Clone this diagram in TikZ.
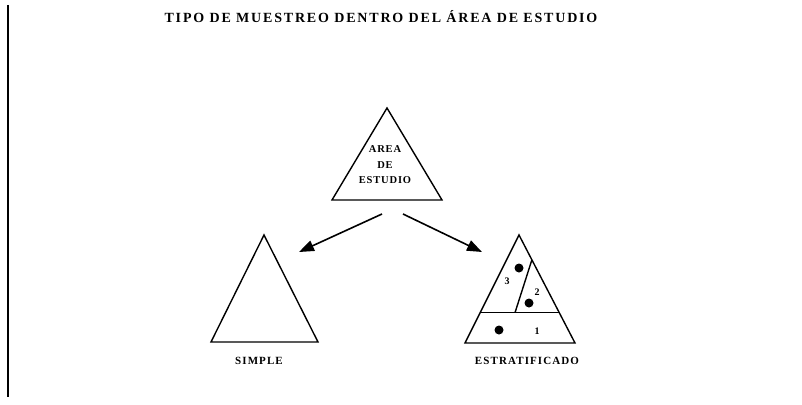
\documentclass[tikz,border=0pt]{standalone}
\usepackage{fontspec}
\setmainfont{Liberation Serif}
\usepackage{tikz}
\usetikzlibrary{arrows.meta,calc}
\tikzset{
Bord/.style={
 draw=black,
 line width=1.4pt
 },
Triangle/.style={
 draw=black,
 line width=1.4pt,
 line join=miter
 },
Fleche/.style={
 draw=black,
 line width=1.6pt,
 -{Triangle[length=15pt,width=11pt]}
 },
Point/.style={
 circle,
 fill=black,
 inner sep=0pt,
 minimum size=9pt
 },
Titre/.style={
 font=\fontsize{14}{16}\selectfont\bfseries\addfontfeatures{LetterSpace=13}
 },
Etiquette/.style={
 align=center,
 font=\fontsize{10.5}{15.5}\selectfont\bfseries\addfontfeatures{LetterSpace=8}
 },
Nom/.style={
 font=\fontsize{11}{13}\selectfont\bfseries\addfontfeatures{LetterSpace=10}
 },
Chiffre/.style={
 font=\fontsize{10}{12}\selectfont\bfseries
 }
}
\begin{document}
\begin{tikzpicture}[x=1pt,y=-1pt]
\useasboundingbox (0,0) rectangle (802,404);
\coordinate (B1) at (8,5);
\coordinate (B2) at (8,397);
\draw[Bord] (B1) -- (B2);
\node[Titre] (titre) at (381,17) {TIPO DE MUESTREO DENTRO DEL ÁREA DE ESTUDIO};
% area de estudio
\coordinate (A1) at (387,108);
\coordinate (A2) at (332,200);
\coordinate (A3) at (442,200);
\draw[Triangle] (A1) -- (A2) -- (A3) -- cycle;
\node[Etiquette] (area) at (385,165) {AREA\\DE\\ESTUDIO};
% simple
\coordinate (S1) at (264,235);
\coordinate (S2) at (211,342);
\coordinate (S3) at (318,342);
\draw[Triangle] (S1) -- (S2) -- (S3) -- cycle;
\node[Nom] (simple) at (259,361) {SIMPLE};
% estratificado
\coordinate (E1) at (519,235);
\coordinate (E2) at (465,343);
\coordinate (E3) at (575,343);
\draw[Triangle] (E1) -- (E2) -- (E3) -- cycle;
\coordinate (D1) at ($(E2)!0.28!(E1)$);
\coordinate (D2) at ($(E3)!0.28!(E1)$);
\coordinate (D3) at ($(D1)!0.44!(D2)$);
\coordinate (D4) at ($(E3)!0.77!(E1)$);
\draw[Triangle] (D1) -- (D2);
\draw[Triangle] (D3) -- (D4);
\node[Point] (p3) at (519,268) {};
\node[Point] (p2) at (529,303) {};
\node[Point] (p1) at (499,330) {};
\node[Chiffre] (n3) at (507,281) {3};
\node[Chiffre] (n2) at (537,292) {2};
\node[Chiffre] (n1) at (537,331) {1};
\node[Nom] (estratificado) at (527,361) {ESTRATIFICADO};
% fleches
\coordinate (Ag) at (382,214);
\coordinate (Ad) at (403,214);
\coordinate (Sf) at (299,252);
\coordinate (Ef) at (482,252);
\draw[Fleche] (Ag) -- (Sf);
\draw[Fleche] (Ad) -- (Ef);
\end{tikzpicture}
\end{document}
